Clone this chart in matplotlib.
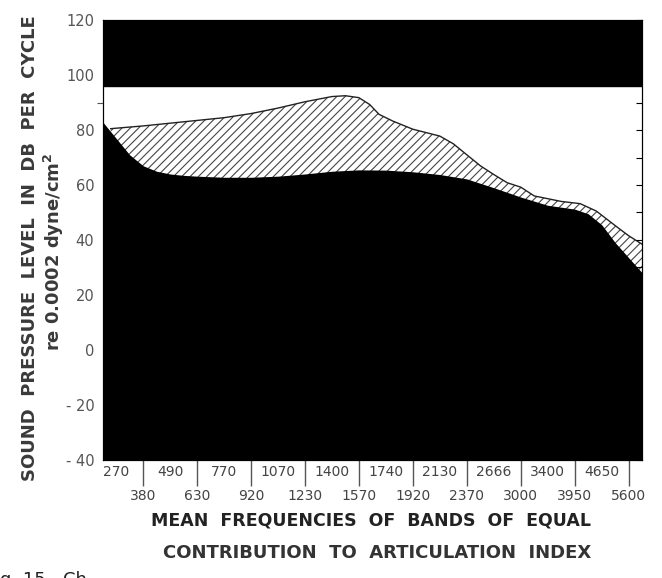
import matplotlib.pyplot as plt

# band labels (mean frequencies), alternating rows
upper_row = ['270', '490', '770', '1070', '1400', '1740', '2130', '2666', '3400', '4650']
lower_row = ['380', '630', '920', '1230', '1570', '1920', '2370', '3000', '3950', '5600']

# top edge of the black (lower) region, band position vs dB
floor_pos = [0.5, 1.0, 1.5, 2.0, 2.5, 3.0, 3.5, 4, 5, 6, 7, 8, 9, 10, 11, 12, 13,
             14, 15, 16, 17, 18, 18.5, 19, 19.5, 20, 20.5]
floor_db = [83, 77, 71, 67, 65, 64, 63.5, 63.2, 62.8, 62.8, 63.2, 64, 65, 65.5, 65.4,
            64.8, 63.8, 62.2, 59, 55.6, 52.6, 51.2, 49.5, 45.5, 39, 33.5, 28]

# top edge of the hatched region
peak_pos = [0.8, 2, 3, 4, 5, 6, 7, 8, 9, 9.5, 10, 10.4, 10.75, 11.25, 12, 13, 13.5,
            14, 14.5, 15, 15.5, 16, 16.5, 17, 17.5, 18.2, 18.8, 19.5, 20, 20.5]
peak_db = [80.5, 81.5, 82.5, 83.5, 84.5, 86, 88, 90.3, 92.2, 92.5, 91.8, 89.3, 85.7,
           83.3, 80.3, 77.8, 75, 71, 67, 63.8, 60.8, 59.2, 56, 55, 54, 53.2, 50.5,
           45.2, 41.5, 38.4]

# black band at the top
band_lo, band_hi = 96, 120

plt.rcParams['hatch.linewidth'] = 0.8

fig = plt.figure(figsize=(6.62, 5.78), dpi=100)
ax = fig.add_axes([0.155, 0.205, 0.815, 0.76])
ax.set_xlim(0.5, 20.5)
ax.set_ylim(-40, 120)

ax.axhspan(band_lo, band_hi, color='black', zorder=3)
ax.fill_between(peak_pos, peak_db, -40, facecolor='white', edgecolor='#444444',
                hatch='////', linewidth=0, zorder=1)
ax.plot(peak_pos, peak_db, color='#222222', lw=1, zorder=2)
ax.fill_between(floor_pos, floor_db, -40, color='black', linewidth=0, zorder=3)

# y axis
yt = list(range(-40, 121, 20))
ax.set_yticks(yt)
ax.set_yticklabels([('- %d' % -v) if v < 0 else str(v) for v in yt])
ax.set_yticks([90], minor=True)
ax.tick_params(axis='y', which='major', length=0, pad=6, labelsize=10.5, labelcolor='#555555')
ax.tick_params(axis='y', which='minor', length=4, width=0.8, color='#555555')

# x axis: two rows of labels
ax.set_xticks(range(2, 21, 2))
ax.set_xticklabels(lower_row)
ax.set_xticks(range(1, 20, 2), minor=True)
ax.set_xticklabels(upper_row, minor=True)
ax.tick_params(axis='x', which='major', length=19, width=1, pad=2, labelsize=10,
               labelcolor='#444444', color='#555555')
ax.tick_params(axis='x', which='minor', length=0, pad=4, labelsize=10, labelcolor='#444444')

for s in ax.spines.values():
    s.set_color('black')
    s.set_linewidth(0.8)

# right-hand scale with inward ticks
axr = ax.twinx()
axr.set_ylim(-40, 120)
axr.set_yticks(range(-40, 121, 10))
axr.tick_params(axis='y', direction='in', length=4, width=0.8, labelright=False)
for s in axr.spines.values():
    s.set_linewidth(0.8)

fig.text(0.045, 0.57, 'SOUND  PRESSURE  LEVEL  IN  DB  PER  CYCLE', rotation=90,
         ha='center', va='center', fontsize=13, fontweight='bold', color='#3a3a3a')
fig.text(0.081, 0.565, 're 0.0002 dyne/cm$^\\mathbf{2}$', rotation=90,
         ha='center', va='center', fontsize=13, fontweight='bold', color='#3a3a3a')

fig.text(0.56, 0.10, 'MEAN  FREQUENCIES  OF  BANDS  OF  EQUAL', ha='center', va='center',
         fontsize=12.5, fontweight='bold', color='#222222')
fig.text(0.57, 0.043, 'CONTRIBUTION  TO  ARTICULATION  INDEX', ha='center', va='center',
         fontsize=13, fontweight='bold', color='#333333')

fig.text(0.0, 0.012, 'g. 15.  Ch', fontsize=13, va='top', color='#222222')

fig.savefig('out.png', dpi=100)
